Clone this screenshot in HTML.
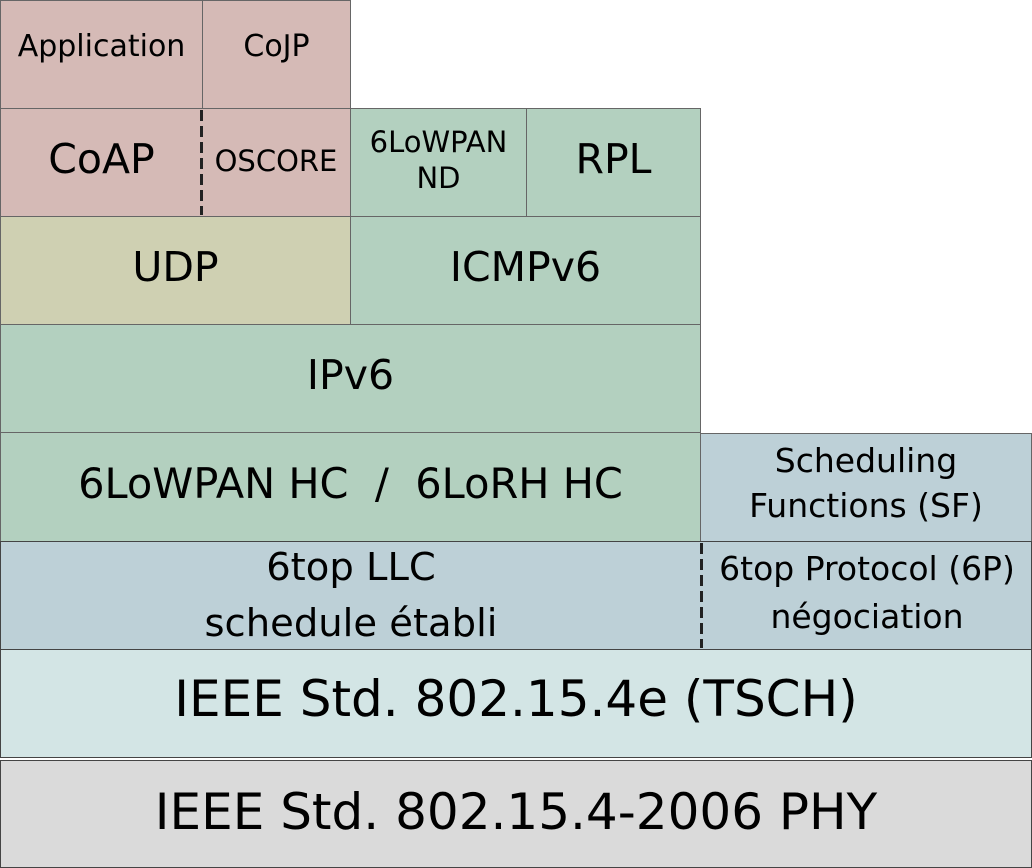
<!DOCTYPE html>
<html><head><meta charset="utf-8"><style>
body{margin:0;width:1032px;height:868px;background:#fff;position:relative;overflow:hidden;font-family:"DejaVu Sans","Liberation Sans",sans-serif;}
.b{position:absolute;box-sizing:border-box;border:1.5px solid #666;display:flex;align-items:center;justify-content:center;text-align:center;color:#000;padding-bottom:7px;}
.r{background:#d5bab6}.g{background:#b3d0bf}.y{background:#cfd0b2}.bl{background:#bdd0d7}.lt{background:#d3e5e5}.gr{background:#dadada}
.d{position:absolute;width:3px;background:repeating-linear-gradient(to bottom,#222 0 11px,transparent 11px 16px);}
</style></head><body>
<div class="b r" style="left:0;top:0;width:203px;height:109px;font-size:30px;padding-bottom:16px">Application</div>
<div class="b r" style="left:202px;top:0;width:149px;height:109px;font-size:30px;padding-bottom:16px">CoJP</div>
<div class="b r" style="left:0;top:108px;width:203px;height:109px;font-size:41px">CoAP</div>
<div class="b r" style="left:202px;top:108px;width:149px;height:109px;font-size:29px;border-left:none;padding-bottom:4px">OSCORE</div>
<div class="d" style="left:200px;top:110px;height:105px"></div>
<div class="b g" style="left:350px;top:108px;width:177px;height:109px;font-size:29px;line-height:1.22;padding-bottom:4px">6LoWPAN<br>ND</div>
<div class="b g" style="left:526px;top:108px;width:175px;height:109px;font-size:41px">RPL</div>
<div class="b y" style="left:0;top:216px;width:351px;height:109px;font-size:41px">UDP</div>
<div class="b g" style="left:350px;top:216px;width:351px;height:109px;font-size:41px">ICMPv6</div>
<div class="b g" style="left:0;top:324px;width:701px;height:109px;font-size:41px">IPv6</div>
<div class="b g" style="left:0;top:432px;width:701px;height:110px;font-size:41.5px;white-space:pre">6LoWPAN HC  /  6LoRH HC</div>
<div class="b bl" style="left:700px;top:433px;width:332px;height:109px;font-size:33px;line-height:1.35">Scheduling<br>Functions (SF)</div>
<div class="b bl" style="left:0;top:541px;width:1032px;height:109px;border-color:#444"></div>
<div style="position:absolute;left:0;top:541px;width:702px;height:109px;box-sizing:border-box;padding-top:0;display:flex;align-items:center;justify-content:center;text-align:center;font-size:38.5px;line-height:1.45">6top LLC<br>schedule établi</div>
<div style="position:absolute;left:702px;top:541px;width:330px;height:109px;box-sizing:border-box;padding-bottom:6px;display:flex;align-items:center;justify-content:center;text-align:center;font-size:33px;line-height:1.45">6top Protocol (6P)<br>négociation</div>
<div class="d" style="left:700px;top:543px;height:105px"></div>
<div class="b lt" style="left:0;top:649px;width:1032px;height:109px;font-size:50px;border-color:#444;padding-bottom:10px">IEEE Std. 802.15.4e (TSCH)</div>
<div class="b gr" style="left:0;top:760px;width:1032px;height:108px;font-size:50px;border-color:#444;padding-bottom:4px">IEEE Std. 802.15.4-2006 PHY</div>
</body></html>
